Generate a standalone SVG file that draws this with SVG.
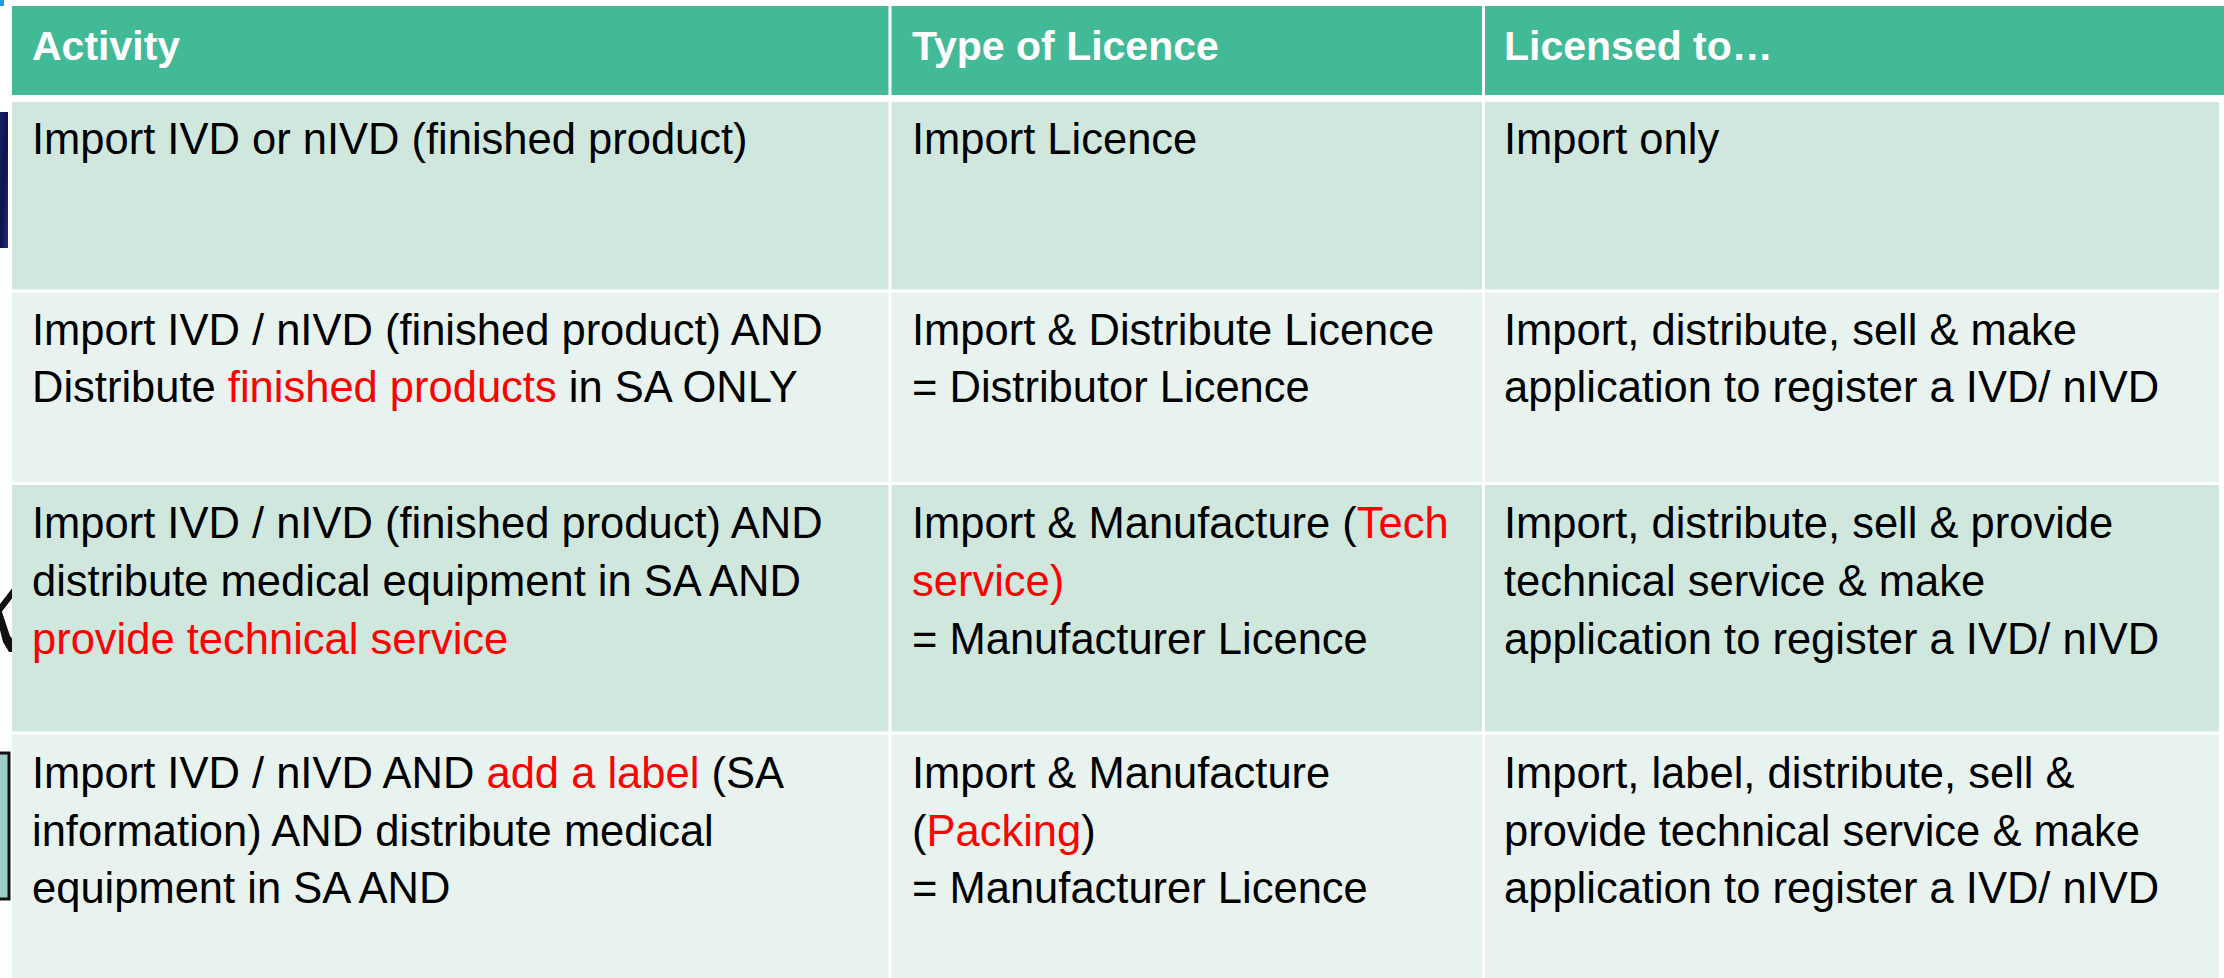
<svg xmlns="http://www.w3.org/2000/svg" width="2224" height="978" viewBox="0 0 2224 978">
<defs>
<style>
.hd{fill:#43BA97}
.odd{fill:#D0E7DE}
.even{fill:#E8F2EE}
.ht{font-family:"Liberation Sans",Arial,sans-serif;font-weight:bold;font-size:41px;fill:#FFFFFF}
.bt{font-family:"Liberation Sans",Arial,sans-serif;font-size:43.5px;fill:#000000}
.red{fill:#FF0000}
</style>
<linearGradient id="navy" x1="0" y1="0" x2="1" y2="1">
<stop offset="0" stop-color="#1B1F6E"/>
<stop offset="0.5" stop-color="#10124A"/>
<stop offset="1" stop-color="#232A86"/>
</linearGradient>
</defs>
<rect x="0" y="0" width="2224" height="978" fill="#FFFFFF"/>

<g id="background-fragments">
<rect x="0" y="0" width="4" height="6" fill="#1E9BE6"/>
<rect x="0" y="112" width="8" height="136" fill="url(#navy)"/>
<rect x="0" y="508" width="17" height="145" fill="#FFFFFF"/>
<path d="M17,582 L0,604 L0,614 L17,592 Z" fill="#111111"/>
<path d="M0,606 L10,636 L17,644 L17,652 L9,652 L3,642 L0,630 Z" fill="#111111"/>
<rect x="-2" y="753" width="11" height="146" fill="#9CCBC8" stroke="#111111" stroke-width="3"/>
</g>

<g id="header">
<g id="h-activity"><rect class="hd" x="12" y="6" width="876.5" height="89"/><text class="ht" x="32" y="60">Activity</text></g>
<g id="h-type"><rect class="hd" x="891.5" y="6" width="590.5" height="89"/><text class="ht" x="912" y="60">Type of Licence</text></g>
<g id="h-licensed"><rect class="hd" x="1485" y="6" width="1234" height="89"/><text class="ht" x="1504" y="60">Licensed to…</text></g>
</g>

<g id="row1">
<g id="r1c1"><rect class="odd" x="12" y="102" width="876.5" height="187.5"/><text class="bt" x="32" y="154">Import IVD or nIVD (finished product)</text></g>
<g id="r1c2"><rect class="odd" x="891.5" y="102" width="590.5" height="187.5"/><text class="bt" x="912" y="154">Import Licence</text></g>
<g id="r1c3"><rect class="odd" x="1485" y="102" width="734" height="187.5"/><text class="bt" x="1504" y="154">Import only</text></g>
</g>

<g id="row2">
<g id="r2c1"><rect class="even" x="12" y="292.5" width="876.5" height="189.5"/>
<text class="bt" x="32" y="345">Import IVD / nIVD (finished product) AND</text>
<text class="bt" x="32" y="402">Distribute <tspan class="red">finished products</tspan> in SA ONLY</text></g>
<g id="r2c2"><rect class="even" x="891.5" y="292.5" width="590.5" height="189.5"/>
<text class="bt" x="912" y="345">Import &amp; Distribute Licence</text>
<text class="bt" x="912" y="402">= Distributor Licence</text></g>
<g id="r2c3"><rect class="even" x="1485" y="292.5" width="734" height="189.5"/>
<text class="bt" x="1504" y="345">Import, distribute, sell &amp; make</text>
<text class="bt" x="1504" y="402">application to register a IVD/ nIVD</text></g>
</g>

<g id="row3">
<g id="r3c1"><rect class="odd" x="12" y="485" width="876.5" height="246.5"/>
<text class="bt" x="32" y="538">Import IVD / nIVD (finished product) AND</text>
<text class="bt" x="32" y="596">distribute medical equipment in SA AND</text>
<text class="bt red" x="32" y="654">provide technical service</text></g>
<g id="r3c2"><rect class="odd" x="891.5" y="485" width="590.5" height="246.5"/>
<text class="bt" x="912" y="538">Import &amp; Manufacture (<tspan class="red">Tech</tspan></text>
<text class="bt red" x="912" y="596">service)</text>
<text class="bt" x="912" y="654">= Manufacturer Licence</text></g>
<g id="r3c3"><rect class="odd" x="1485" y="485" width="734" height="246.5"/>
<text class="bt" x="1504" y="538">Import, distribute, sell &amp; provide</text>
<text class="bt" x="1504" y="596">technical service &amp; make</text>
<text class="bt" x="1504" y="654">application to register a IVD/ nIVD</text></g>
</g>

<g id="row4">
<g id="r4c1"><rect class="even" x="12" y="734.5" width="876.5" height="243.5"/>
<text class="bt" x="32" y="788">Import IVD / nIVD AND <tspan class="red">add a label</tspan> (SA</text>
<text class="bt" x="32" y="846">information) AND distribute medical</text>
<text class="bt" x="32" y="903">equipment in SA AND</text></g>
<g id="r4c2"><rect class="even" x="891.5" y="734.5" width="590.5" height="243.5"/>
<text class="bt" x="912" y="788">Import &amp; Manufacture</text>
<text class="bt" x="912" y="846">(<tspan class="red">Packing</tspan>)</text>
<text class="bt" x="912" y="903">= Manufacturer Licence</text></g>
<g id="r4c3"><rect class="even" x="1485" y="734.5" width="734" height="243.5"/>
<text class="bt" x="1504" y="788">Import, label, distribute, sell &amp;</text>
<text class="bt" x="1504" y="846">provide technical service &amp; make</text>
<text class="bt" x="1504" y="903">application to register a IVD/ nIVD</text></g>
</g>
<g id="connectors"/>
</svg>
